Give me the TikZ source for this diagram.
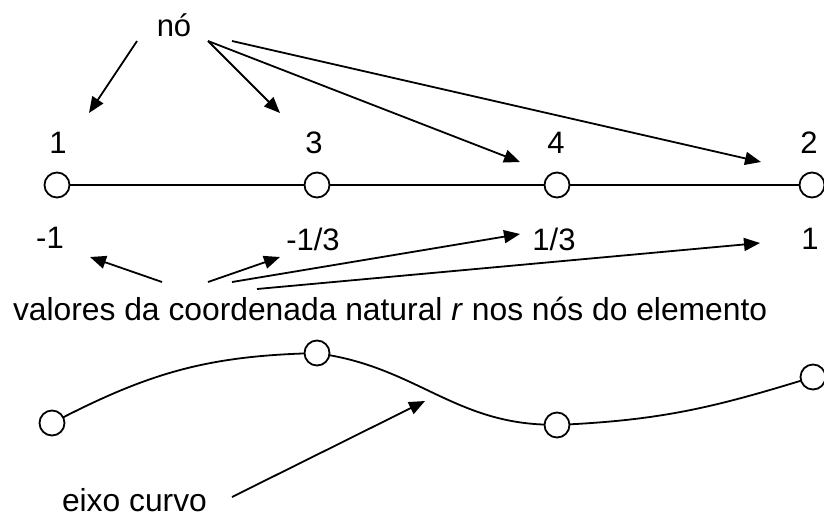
\documentclass[tikz,border=0pt]{standalone}
\usepackage{fontspec}
\setmainfont{Liberation Sans}
\usetikzlibrary{arrows.meta}
\begin{document}
\begin{tikzpicture}[x=1pt,y=-1pt,
  every node/.style={inner sep=0pt,outer sep=0pt},
  lbl/.style={font=\fontsize{31}{37}\selectfont},
  big/.style={font=\fontsize{31.8}{38}\selectfont},
  knot/.style={circle,draw,line width=1.8pt,minimum size=25pt,fill=white},
  line/.style={line width=1.8pt},
  arr/.style={line width=1.8pt,-{Triangle[length=16pt,width=13pt]}}]
\useasboundingbox (0,0) rectangle (824,517);
% straight element
\node[knot] (n1) at (57,185) {};
\node[knot] (n3) at (317,185) {};
\node[knot] (n4) at (557,185) {};
\node[knot] (n2) at (812,185) {};
\draw[line] (n1) -- (n3) (n3) -- (n4) (n4) -- (n2);
% node numbers
\node[lbl] (t1) at (58,143) {1};
\node[lbl] (t3) at (314,143) {3};
\node[lbl] (t4) at (556,143) {4};
\node[lbl] (t2) at (809,143) {2};
% "no" label and arrows
\node[lbl] (no) at (174,25) {nó};
\coordinate (s1) at (137,41);
\coordinate (s2) at (208,41);
\coordinate (s4) at (232,41);
\coordinate (e1) at (89,113);
\coordinate (e2) at (280,113);
\coordinate (e3) at (520,162);
\coordinate (e4) at (761,162);
\draw[arr] (s1) -- (e1);
\draw[arr] (s2) -- (e2);
\draw[arr] (s2) -- (e3);
\draw[arr] (s4) -- (e4);
% natural coordinate values
\node[lbl] (v1) at (50,238) {-1};
\node[lbl] (v3) at (313,239) {-1/3};
\node[lbl] (v4) at (554,239) {1/3};
\node[lbl] (v2) at (810,239) {1};
\node[big,anchor=base west] (txt) at (13,320) {valores da coordenada natural \textit{r} nos nós do elemento};
\coordinate (b1s) at (162,282);
\coordinate (b2s) at (208,282);
\coordinate (b3s) at (232,282);
\coordinate (b4s) at (257,289);
\coordinate (b1e) at (90,257);
\coordinate (b2e) at (280,257);
\coordinate (b3e) at (520,234);
\coordinate (b4e) at (760,243);
\draw[arr] (b1s) -- (b1e);
\draw[arr] (b2s) -- (b2e);
\draw[arr] (b3s) -- (b3e);
\draw[arr] (b4s) -- (b4e);
% curved element
\node[knot] (c1) at (52,423) {};
\node[knot] (c3) at (317,353) {};
\node[knot] (c4) at (557,425) {};
\node[knot] (c2) at (813,377) {};
\draw[line] (c1) to[out=27,in=182] (c3);
\draw[line] (c3) to[out=-10,in=178] (c4);
\draw[line] (c4) to[out=3,in=197] (c2);
% curved axis label
\node[big,anchor=base west] (eixo) at (62,511) {eixo curvo};
\coordinate (ecs) at (232,497);
\coordinate (ece) at (425,401);
\draw[arr] (ecs) -- (ece);
\end{tikzpicture}
\end{document}
